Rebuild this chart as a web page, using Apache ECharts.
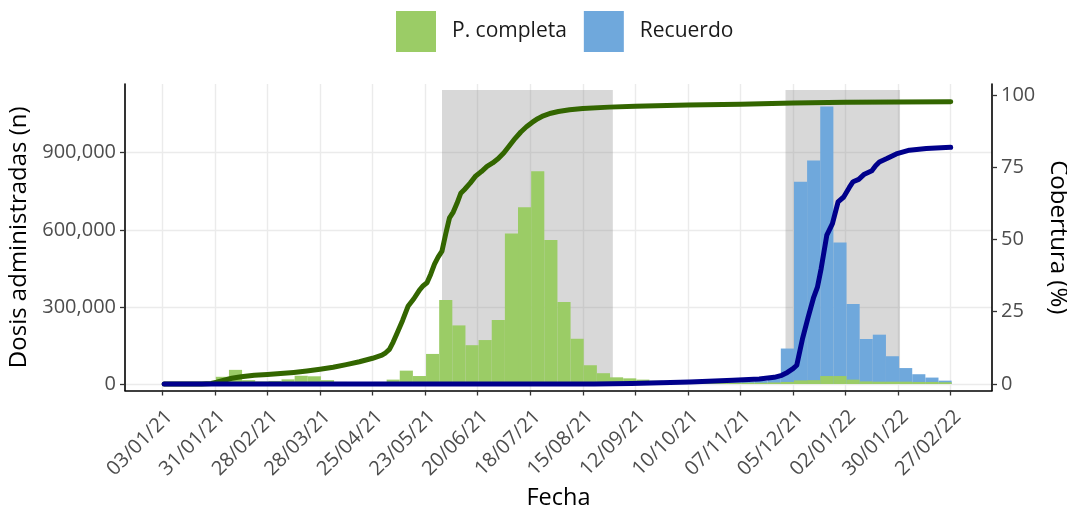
<!DOCTYPE html>
<html>
<head>
<meta charset="utf-8">
<script src="https://cdn.jsdelivr.net/npm/echarts@6/dist/echarts.min.js"></script>
<style>html,body{margin:0;padding:0;background:#fff}#c{width:1067px;height:507px}</style>
</head>
<body>
<div id="c"></div>
<script>
// ---- data (x = days since 03/01/21) ----
const startDate = '2021-01-03';
const tickLabels = ['03/01/21','31/01/21','28/02/21','28/03/21','25/04/21','23/05/21','20/06/21','18/07/21','15/08/21','12/09/21','10/10/21','07/11/21','05/12/21','02/01/22','30/01/22','27/02/22'];
const tickStepDays = 28;
// weekly doses, week k starts on Monday 04/01/21 + 7k
const completaWeekly = [1000,1500,2000,3000,28000,55000,15000,10000,12000,18000,32000,30000,15000,8000,6000,6000,8000,17000,52000,31000,117000,327000,228000,151000,171000,249000,586000,688000,828000,560000,319000,176000,73000,42000,26000,22000,17000,13000,10000,8000,7000,6000,6000,5000,5000,5000,6000,8000,14000,15000,31000,31000,17000,10000,9000,9000,9000,8000,8000,7000];
const recuerdoWeekly = [0,0,0,0,0,0,0,0,0,0,0,0,0,0,0,0,0,0,0,0,0,0,0,0,0,0,0,0,0,0,0,0,0,0,0,0,0,0,0,0,3000,5000,6000,7000,9000,12000,28000,138000,787000,870000,1080000,551000,311000,175000,192000,108000,62000,38000,25000,13000];
// coverage (%) [day, value]
const coberturaCompleta = [[1,0],[21,0],[26,0.2],[29,0.6],[33,1.3],[37,2.0],[42,2.5],[49,3.0],[56,3.3],[63,3.6],[70,4.0],[77,4.5],[84,5.1],[91,5.8],[98,6.7],[105,7.7],[112,8.9],[117,10.0],[119,10.8],[121,12.0],[123,14.5],[125,17.5],[128,22.0],[131,27.0],[134,29.5],[137,32.5],[139,34.0],[141,35.0],[143,38.0],[145,41.5],[147,44.0],[149,46.0],[151,52.0],[153,57.5],[155,59.5],[157,62.5],[159,66.0],[161,67.3],[164,69.5],[167,72.0],[170,73.5],[173,75.3],[176,76.5],[179,78.0],[182,80.0],[185,82.5],[188,85.0],[191,87.2],[194,89.0],[197,90.5],[200,91.8],[203,92.8],[207,93.7],[211,94.3],[217,94.9],[224,95.3],[238,95.8],[252,96.1],[280,96.5],[308,96.8],[336,97.2],[364,97.5],[392,97.6],[420,97.7]];
const coberturaRecuerdo = [[1,0],[230,0],[250,0.2],[281,0.7],[304,1.3],[318,1.7],[326,2.3],[330,3.0],[333,4.0],[336,5.3],[338,6.5],[341,15.5],[344,23.0],[347,30.0],[349,33.5],[351,40.0],[354,51.5],[357,55.5],[360,63.0],[363,64.7],[366,68.0],[368,70.0],[371,70.8],[374,72.6],[378,73.8],[380,75.5],[382,76.8],[386,78.0],[391,79.6],[398,80.9],[407,81.5],[420,81.9]];
// shaded periods
const shadedStart = ['2021-06-01','2021-12-01'];
const shadedEnd = ['2021-08-31','2022-01-31'];
const shadedTop = 1144000;
const leftTicks = [0,300000,600000,900000];
const rightTicks = [0,25,50,75,100];

// ---- build ----
const DAY = 86400000;
const d0 = Date.parse(startDate + 'T00:00:00Z');
const toDay = s => Math.round((Date.parse(s + 'T00:00:00Z') - d0) / DAY);
const tickDays = tickLabels.map((_, i) => i * tickStepDays);
const weekMonday = completaWeekly.map((_, k) => 1 + 7 * k);
const completaData = completaWeekly.map((v, k) => [weekMonday[k], v]);
const recuerdoData = recuerdoWeekly.map((v, k) => [weekMonday[k], v]);
const shadedData = shadedStart.map((s, i) => [toDay(s), toDay(shadedEnd[i]), shadedTop]);

function barRender(params, api) {
  const x = api.value(0), v = api.value(1);
  const p0 = api.coord([x - 0.5, v]);
  const p1 = api.coord([x + 6.5, 0]);
  return { type: 'rect', shape: { x: p0[0], y: p0[1], width: p1[0] - p0[0], height: p1[1] - p0[1] }, style: { fill: api.visual('color') } };
}
function rectRender(params, api) {
  const p0 = api.coord([api.value(0), api.value(2)]);
  const p1 = api.coord([api.value(1), 0]);
  return { type: 'rect', shape: { x: p0[0], y: p0[1], width: p1[0] - p0[0], height: p1[1] - p0[1] }, style: { fill: 'rgba(127,127,127,0.3)' } };
}

const FONT = '"Open Sans"';
const chart = echarts.init(document.getElementById('c'), null, { renderer: 'canvas' });
chart.setOption({
  animation: false,
  textStyle: { fontFamily: FONT },
  grid: { left: 125, right: 75, top: 84, bottom: 116.5, containLabel: false, outerBoundsMode: 'none' },
  legend: {
    data: ['P. completa', 'Recuerdo'],
    left: 391, top: 6,
    itemWidth: 40, itemHeight: 41, itemGap: 17, icon: 'rect',
    textStyle: { fontFamily: FONT, fontSize: 21, color: '#1a1a1a', padding: [0, 0, 0, 11] }
  },
  xAxis: {
    type: 'value', min: -19.87, max: 442,
    name: 'Fecha', nameLocation: 'middle', nameGap: 93,
    nameTextStyle: { fontFamily: FONT, fontSize: 23.5, color: '#000' },
    axisLine: { onZero: false, lineStyle: { color: '#000', width: 1.6 } },
    axisTick: { customValues: tickDays, length: 5, lineStyle: { color: '#333', width: 1.3 } },
    axisLabel: { customValues: tickDays, rotate: 45, margin: 16, fontSize: 20, color: '#4D4D4D', fontFamily: FONT,
      verticalAlign: 'top',
      formatter: v => tickLabels[Math.round(v / tickStepDays)] },
    splitLine: { show: true, lineStyle: { color: '#EBEBEB', width: 1.4 } }
  },
  yAxis: [{
    type: 'value', min: -25292, max: 1167315, position: 'left',
    name: 'Dosis administradas (n)', nameLocation: 'middle', nameGap: 89,
    nameTextStyle: { fontFamily: FONT, fontSize: 24, color: '#000' },
    axisLine: { show: true, onZero: false, lineStyle: { color: '#000', width: 1.6 } },
    axisTick: { show: true, customValues: leftTicks, length: 5, lineStyle: { color: '#333', width: 1.3 } },
    axisLabel: { customValues: leftTicks, margin: 9, fontSize: 20, color: '#4D4D4D', fontFamily: FONT,
      formatter: v => Math.round(v).toLocaleString('en-US') },
    splitLine: { show: true, lineStyle: { color: '#EBEBEB', width: 1.4 } }
  }, {
    type: 'value', min: -2.249, max: 103.8, position: 'right',
    name: 'Cobertura (%)', nameLocation: 'middle', nameGap: 44, nameRotate: -90,
    nameTextStyle: { fontFamily: FONT, fontSize: 24, color: '#000' },
    axisLine: { show: true, onZero: false, lineStyle: { color: '#000', width: 1.6 } },
    axisTick: { show: true, customValues: rightTicks, length: 5, lineStyle: { color: '#333', width: 1.3 } },
    axisLabel: { customValues: rightTicks, margin: 9, fontSize: 20, color: '#4D4D4D', fontFamily: FONT },
    splitLine: { show: false }
  }],
  series: [
    { type: 'custom', name: 'shade', renderItem: rectRender, data: shadedData, z: 1, silent: true, encode: { x: [0, 1], y: 2 } },
    { type: 'custom', name: 'Recuerdo', renderItem: barRender, data: recuerdoData, z: 2, itemStyle: { color: '#6FA8DC' }, encode: { x: 0, y: 1 } },
    { type: 'custom', name: 'P. completa', renderItem: barRender, data: completaData, z: 3, itemStyle: { color: '#9BCC66' }, encode: { x: 0, y: 1 } },
    { type: 'line', name: 'Cobertura completa', yAxisIndex: 1, data: coberturaCompleta, showSymbol: false, z: 4,
      lineStyle: { color: '#336600', width: 5, cap: 'round', join: 'round' }, itemStyle: { color: '#336600' } },
    { type: 'line', name: 'Cobertura recuerdo', yAxisIndex: 1, data: coberturaRecuerdo, showSymbol: false, z: 5,
      lineStyle: { color: '#00008B', width: 5, cap: 'round', join: 'round' }, itemStyle: { color: '#00008B' } }
  ]
});
</script>
</body>
</html>
